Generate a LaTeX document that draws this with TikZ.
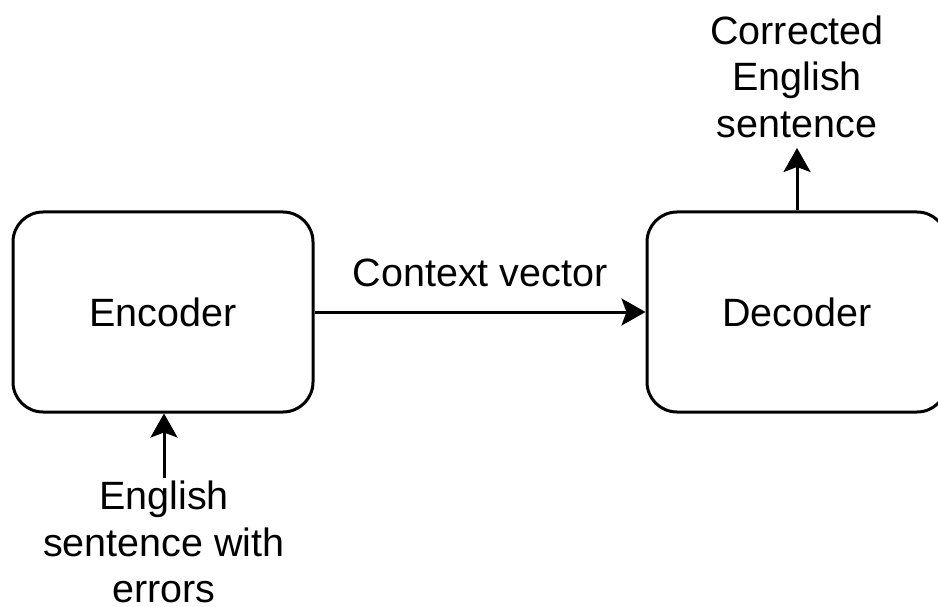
\documentclass[tikz,border=0pt]{standalone}
\usepackage{fontspec}
\setmainfont{Liberation Sans}
\usetikzlibrary{arrows.meta}
\tikzset{
  box/.style={draw, line width=3pt, rounded corners=30pt, minimum width=300pt, minimum height=200pt, inner sep=0pt},
  lbl/.style={align=center, inner sep=0pt},
  arr/.style={line width=3pt, -{Stealth[length=24pt, width=27pt, inset=5pt]}},
}
\begin{document}
\begin{tikzpicture}[x=1pt, y=-1pt, font=\fontsize{39.5}{46.5}\selectfont]
\clip (0,0) rectangle (938,607);
\useasboundingbox (0,0) rectangle (938,607);
\node[box] (enc) at (163,312) {Encoder};
\node[box] (dec) at (797,312) {Decoder};
\coordinate (outpt) at (797,148);
\node[lbl, anchor=south] (out) at (797,138) {Corrected\\English\\sentence};
\node[lbl, anchor=north] (in) at (164,481) {English\\sentence with\\errors};
\draw[arr] (enc.east) -- node[above=24pt, inner sep=0pt] (ctx) {Context vector} (dec.west);
\draw[arr] (dec.north) -- (outpt);
\draw[arr] ([yshift=3pt]in.north) -- (enc.south -| in.north);
\end{tikzpicture}
\end{document}
